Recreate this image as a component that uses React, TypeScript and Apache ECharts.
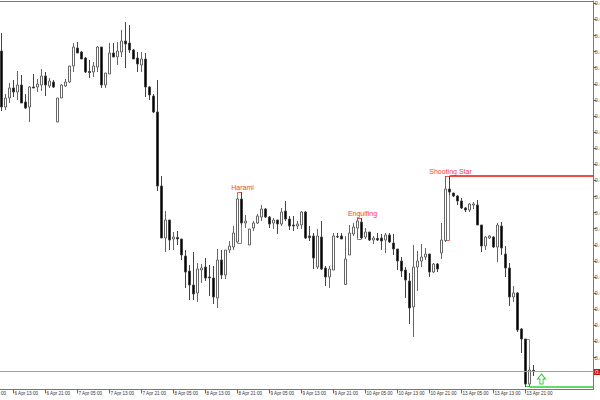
import React, { useEffect, useRef } from "react";
import * as echarts from "echarts";

// Prices are kept in points above a base price.
const opens = [349,293,302,312,308,315,298,293,313,313,315,324,314,318,278,302,314,318,334,352,348,342,328.5,328,333,353,315,326,347,343,348,359,357,350,342,335,341,313,304,288,214,162,180,161,162.5,161,144,129,115,107,130,133,123,122,102,140,125,150,153,158,201,177,155,172,177,183,191,183,177,180,176,189,181,175,174,175,188,164,164,133,163,132,123,130,163.5,164,115.5,145,166,172,178,163,168,160,161.5,162,160,165,157,151,139,130,119,93,133,139,143,146,128,136,147,159.5,211,207,204,199,192,190,195,195,175,154,162,163,153,174,146,132,103,107,71,61,16,29.5];
const closes = [293,302,312,308,315,297,292,313,312,316,324,315,319,313,302,315,318,334,353,347,341,328,327.5,334,353,315,327,347,343,349,359,356,350,341,336,341,313,305,288,214,162,180,160,163,161,145,128,115,106,131,132,122,122,103,140,125,150,154,167,201,177,179,171,177,184,191,183,176,180,176,188,181,174,174,176,188,162,162.5,142,164,131,123,131,164,163,161,141,167,173,179,162,168,160,162,160,159,165,158,151,139,129,120,92,133,139,143,146,128,136,131,160,211,208,204,199,192,190,196,196,175,154,163,164,153,175,152,132,103,107,70,61,16,30,29];
const lows = [289,290,297,303,300,297,291,278,312,308,309,304,312,312,278,302,313,317,328,347,341,327,322,323,328,312,312,326,343,335,343,332,347,341,328,328,303,300,287,209,162,148,150,150,155,140,112,100,100,98,117,119,104,96,92,121,121,147,150,157,175,172,155,169,176,179,182,172,171,166,174,179,170,169,171,171,161,159,131,131,130,114,112,130,162,161,115.5,145,164,162,161,161,159,156,159,150,147,157,145,130,123,102,76,63,109,133,140,123,127,128,141,158,205,203,195,191,188,188,191,175,148,150,161,152,138,145,123,94,98,68,47,13,13,24];
const highs = [367,306,317,320,329,325,306,314,326,321,331,328,322,320,302,316,321,334,357,358,349,343,340,338,354,353,327,357,357,358,370,378,375,351,348,348,347,314,306,320,224,189,180,168,169,161,150,135,148,137,136,142,135,134,151,150,150,159,174,202,208,185,171,179,186,195,192,184,182,180,192,199,184,184,179,189,189,174,167,171,179,134,134,167,167,167,164,175,177,182,182,172,168,164,167,166,167,167,166,151,143,133,127,155,149,156,152,146,137,137,177,224,224,207,205,202,193,197,198,200,175,164,165,164,177,178,154,137,114,108,72,61,33,35];
const tickValues = [396.7,380.6,364.5,348.4,332.3,316.2,300.1,284,267.9,251.8,235.7,219.6,203.5,187.4,171.3,155.2,139.1,123,106.9,90.8,74.7,58.6,42.5,26.4];
const labelValues = [396.7,380.6,364.5,348.4,332.3,316.2,300.1,284,267.9,251.8,235.7,219.6,203.5,187.4,171.3,155.2,139.1,123,106.9,90.8,74.7,58.6,42.5];
const timeLabels = ["6 Apr 05:00","6 Apr 13:00","6 Apr 21:00","7 Apr 05:00","7 Apr 13:00","7 Apr 21:00","8 Apr 05:00","8 Apr 13:00","8 Apr 21:00","9 Apr 05:00","9 Apr 13:00","9 Apr 21:00","10 Apr 05:00","10 Apr 13:00","10 Apr 21:00","13 Apr 05:00","13 Apr 13:00","13 Apr 21:00"];

const LEAD = 5; // bars left of the visible window
const BARS = 154;
const RED = "#f04040";
const GREEN = "#33cc33";

const categories = Array.from({ length: BARS }, (_, i) => (i % 8 === 0 ? timeLabels[i / 8] ?? "" : ""));
const lead = Array.from({ length: LEAD }, () => ["-", "-", "-", "-"]);
const candles = [...lead, ...opens.map((o, i) => [o, closes[i], lows[i], highs[i]])];
const bar = (i: number) => i + LEAD;
const price = (v: number) => (0.86 + v / 10000).toFixed(4);
const isTimeTick = (i: number) => i % 8 === 0 && i / 8 < timeLabels.length;

const box = (name: string, a: number, b: number, top: number, bottom: number, color: string, offset: number[]) => [
  {
    name,
    coord: [bar(a), top],
    itemStyle: { color: "rgba(0,0,0,0)", borderColor: color, borderWidth: 1, opacity: 1 },
    label: { show: !!name, position: "top", distance: 1, color: RED, fontSize: 7, fontFamily: "Liberation Sans", offset },
  },
  { coord: [bar(b), bottom] },
];

const level = (from: number, value: number, color: string, width: number) => [
  { coord: [from, value], lineStyle: { color, width, type: "solid" } },
  { coord: [BARS - 1, value] },
];

export default function App() {
  const ref = useRef<HTMLDivElement>(null);
  useEffect(() => {
    const chart = echarts.init(ref.current!, undefined, { renderer: "svg" });
    chart.setOption({
      animation: false,
      backgroundColor: "#fff",
      grid: { left: -20.5, top: 1, width: 616, height: 388.4, containLabel: false, outerBoundsMode: "none" },
      xAxis: {
        type: "category",
        data: categories,
        boundaryGap: true,
        axisLine: { show: false },
        axisTick: { show: true, interval: isTimeTick, alignWithLabel: true, length: 4, lineStyle: { color: "#666", width: 1 } },
        axisLabel: { interval: isTimeTick, align: "left", margin: 2, padding: [0, 0, 0, 1], fontSize: 4.6, color: "#333", fontFamily: "Liberation Sans" },
        splitLine: { show: false },
      },
      yAxis: {
        type: "value",
        position: "right",
        offset: -2,
        min: 10.6,
        max: 399,
        axisLine: { show: true, lineStyle: { color: "#777", width: 1 } },
        axisTick: { show: true, length: 3, customValues: tickValues, lineStyle: { color: "#666", width: 1 } },
        axisLabel: { customValues: labelValues, margin: 1, fontSize: 6, color: "#555", fontFamily: "Liberation Sans", formatter: (v: number) => price(v) },
        splitLine: { show: false },
      },
      graphic: [
        { type: "line", silent: true, shape: { x1: 0, y1: 1.5, x2: 593, y2: 1.5 }, style: { stroke: "#777", lineWidth: 1 } },
        { type: "line", silent: true, shape: { x1: 0, y1: 389.5, x2: 593, y2: 389.5 }, style: { stroke: "#777", lineWidth: 1 } },
        { type: "rect", silent: true, shape: { x: 594, y: 369, width: 6, height: 6 }, style: { fill: "#cc1010" } },
        { type: "text", silent: true, x: 595, y: 369, style: { text: price(29), fill: "#fff", fontSize: 6, fontFamily: "Liberation Sans" } },
      ],
      series: [
        {
          type: "candlestick",
          data: candles,
          barWidth: 2,
          clip: false,
          itemStyle: { color: "#fff", color0: "#000", borderColor: "#666", borderColor0: "#444", borderWidth: 1 },
          markArea: {
            silent: true,
            itemStyle: { opacity: 1 },
            data: [
              box("Harami", 59, 60, 207.5, 156.5, "#ee5555", [3, 0]),
              box("Engulfing", 89, 90, 181.5, 160.5, "#ee5555", [3, 0]),
              box("Shooting Star", 111, 112, 223.5, 159.5, "#ee5555", [3, 0]),
              box("", 131, 132, 60.5, 13.5, GREEN, [0, 0]),
            ],
          },
          markLine: {
            silent: true,
            symbol: "none",
            label: { show: false },
            data: [
              level(bar(112), 224, "#ee1111", 1.5),
              level(0, 28.5, "#d98888", 1),
              level(bar(132), 13.3, GREEN, 1.5),
            ],
          },
          markPoint: {
            silent: true,
            data: [
              {
                coord: [bar(135), 21],
                symbol: "path://M5 0 L10 6 L7 6 L7 12 L3 12 L3 6 L0 6 Z",
                symbolSize: [8, 10],
                itemStyle: { color: "#fff", borderColor: GREEN, borderWidth: 1 },
                label: { show: false },
              },
            ],
          },
        },
      ],
    });
    return () => chart.dispose();
  }, []);
  return <div ref={ref} style={{ position: "absolute", left: 0, top: 0, width: 600, height: 400 }} />;
}
